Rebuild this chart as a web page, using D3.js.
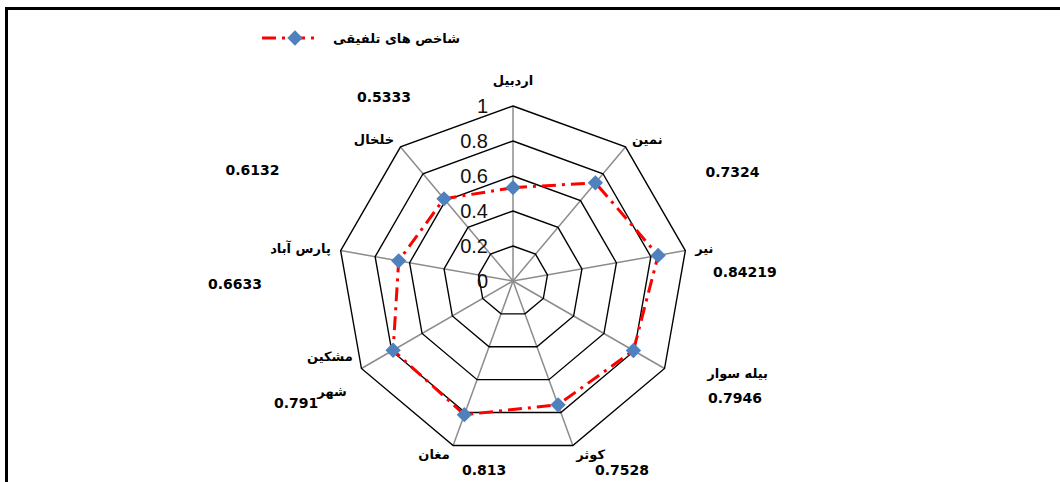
<!DOCTYPE html>
<html>
<head>
<meta charset="utf-8">
<script src="https://cdn.jsdelivr.net/npm/d3@7"></script>
<style>
  body { margin: 0; background: #fff; }
  svg { display: block; }
</style>
</head>
<body>
<div id="chart"></div>
<script>
// data
const cities = ["اردبیل", "نمین", "نیر", "بیله سوار", "کوثر", "مغان", "مشکین شهر", "پارس آباد", "خلخال"];
const values = [0.5333, 0.7324, 0.84219, 0.7946, 0.7528, 0.813, 0.791, 0.6633, 0.6132];
const valueText = ["0.5333", "0.7324", "0.84219", "0.7946", "0.7528", "0.813", "0.791", "0.6633", "0.6132"];
const ticks = [0, 0.2, 0.4, 0.6, 0.8, 1];
const tickText = ["0", "0.2", "0.4", "0.6", "0.8", "1"];
const seriesName = "شاخص های تلفیقی";

// where the data labels were dragged to (angle in degrees, distance in px)
const labelAngle = [-35, 63.6, 87.8, 117.8, 150, 188.7, 240.6, 269.4, 293];
const labelDist = [225, 245, 232, 251, 218, 191, 249, 278, 283];
// sideways nudge of the category names
const catDx = [0, 0, 0, 34, 0, 0, 0, 0, 0];

const W = 1060, H = 482;
const cx = 513, cy = 281, R = 175;

const svg = d3.select("#chart").append("svg")
  .attr("width", W).attr("height", H);

// frame (top and left edges)
svg.append("path")
  .attr("d", `M6.5,${H} L6.5,8.5 L${W},8.5`)
  .attr("fill", "none")
  .attr("stroke", "#000")
  .attr("stroke-width", 3);

const r = d3.scaleLinear().domain([0, 1]).range([0, R]);
const ang = d3.scalePoint().domain(d3.range(cities.length)).range([0, 2 * Math.PI * (cities.length - 1) / cities.length]);

const pt = (i, v) => [cx + r(v) * Math.sin(ang(i)), cy - r(v) * Math.cos(ang(i))];

const g = svg.append("g");

// spokes
g.selectAll("line.spoke")
  .data(cities)
  .enter()
  .append("line")
  .attr("x1", cx).attr("y1", cy)
  .attr("x2", (d, i) => pt(i, 1)[0])
  .attr("y2", (d, i) => pt(i, 1)[1])
  .attr("stroke", "#8c8c8c")
  .attr("stroke-width", 1.5);

// rings
g.selectAll("path.ring")
  .data(ticks.filter(t => t > 0))
  .enter()
  .append("path")
  .attr("d", t => d3.line()(cities.map((c, i) => pt(i, t))) + "Z")
  .attr("fill", "none")
  .attr("stroke", "#000")
  .attr("stroke-width", 1.4);

// tick labels
g.selectAll("text.tick")
  .data(ticks)
  .enter()
  .append("text")
  .attr("x", cx - 25)
  .attr("y", t => cy - r(t))
  .attr("dy", "0.35em")
  .attr("text-anchor", "end")
  .attr("font-family", "Liberation Sans, Arial, sans-serif")
  .attr("font-size", 20)
  .attr("fill", "#111")
  .text((t, i) => tickText[i]);

// series line
g.append("path")
  .attr("d", d3.line()(values.map((v, i) => pt(i, v))) + "Z")
  .attr("fill", "none")
  .attr("stroke", "#ff0000")
  .attr("stroke-width", 3)
  .attr("stroke-dasharray", "14,6,3,6");

// markers
const diamond = d3.symbol().type(d3.symbolDiamond2).size(150);
g.selectAll("path.mark")
  .data(values)
  .enter()
  .append("path")
  .attr("d", diamond)
  .attr("transform", (v, i) => `translate(${pt(i, v)})`)
  .attr("fill", "#4f81bd");

// category names
cities.forEach((c, i) => {
  const a = ang(i);
  const p = pt(i, 1 + 10 / R);
  const x = p[0] + catDx[i];
  const s = Math.sin(a);
  const anchor = s > 0.1 ? "start" : (s < -0.1 ? "end" : "middle");
  const words = c === "مشکین شهر" ? ["مشکین", "شهر"] : [c];
  const t = g.append("text")
    .attr("text-anchor", anchor)
    .attr("font-family", "DejaVu Sans, sans-serif")
    .attr("font-weight", "bold")
    .attr("font-size", 13)
    .attr("fill", "#000");
  if (words.length === 1) {
    t.attr("x", x).attr("y", a === 0 ? p[1] - 16 : p[1]).attr("dy", "0.35em").text(c);
  } else {
    words.forEach((w, k) => {
      t.append("tspan")
        .attr("x", k === 0 ? x : x - 6)
        .attr("y", p[1] + (k === 0 ? -17 : 18))
        .attr("dy", "0.35em")
        .text(w);
    });
  }
});

// data labels
g.selectAll("text.val")
  .data(valueText)
  .enter()
  .append("text")
  .attr("x", (d, i) => cx + labelDist[i] * Math.sin(labelAngle[i] * Math.PI / 180))
  .attr("y", (d, i) => cy - labelDist[i] * Math.cos(labelAngle[i] * Math.PI / 180))
  .attr("dy", "0.35em")
  .attr("text-anchor", "middle")
  .attr("font-family", "DejaVu Sans, sans-serif")
  .attr("font-weight", "bold")
  .attr("font-size", 14)
  .attr("fill", "#000")
  .text(d => d);

// legend
const lg = svg.append("g").attr("transform", "translate(0,38)");
lg.append("line")
  .attr("x1", 262).attr("x2", 318)
  .attr("y1", 0).attr("y2", 0)
  .attr("stroke", "#ff0000")
  .attr("stroke-width", 3)
  .attr("stroke-dasharray", "14,6,3,6");
lg.append("path")
  .attr("d", diamond)
  .attr("transform", "translate(295,0)")
  .attr("fill", "#4f81bd");
lg.append("text")
  .attr("x", 460).attr("y", 0)
  .attr("dy", "0.35em")
  .attr("text-anchor", "end")
  .attr("font-family", "DejaVu Sans, sans-serif")
  .attr("font-weight", "bold")
  .attr("font-size", 13)
  .text(seriesName);
</script>
</body>
</html>
